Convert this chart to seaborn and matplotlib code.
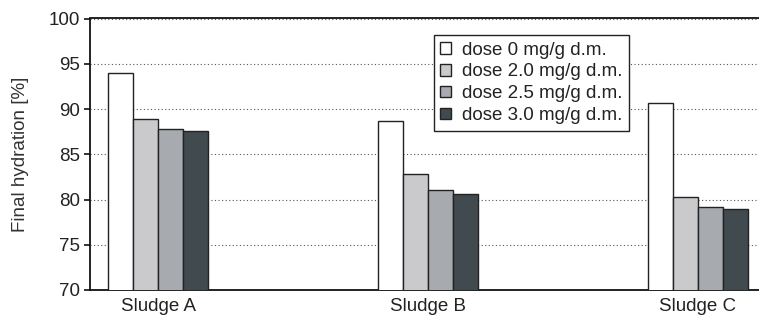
import matplotlib
matplotlib.use("Agg")
import matplotlib.pyplot as plt
import seaborn as sns
import pandas as pd

categories = ["Sludge A", "Sludge B", "Sludge C"]
series_names = ["dose 0 mg/g d.m.", "dose 2.0 mg/g d.m.", "dose 2.5 mg/g d.m.", "dose 3.0 mg/g d.m."]
dose_0 = [94.0, 88.7, 90.7]
dose_20 = [88.9, 82.8, 80.3]
dose_25 = [87.8, 81.0, 79.2]
dose_30 = [87.6, 80.6, 79.0]
yticks = [70, 75, 80, 85, 90, 95, 100]

colors = ["#ffffff", "#c9cacd", "#a6aab0", "#3f4a51"]

rows = []
for name, vals in zip(series_names, [dose_0, dose_20, dose_25, dose_30]):
    for c, v in zip(categories, vals):
        rows.append({"cat": c, "series": name, "value": v})
df = pd.DataFrame(rows)

sns.set_style("white")
plt.rcParams["font.family"] = ["Liberation Sans", "DejaVu Sans"]

FS = 13.5

fig = plt.figure(figsize=(7.59, 3.15), dpi=100)
ax = fig.add_axes([90 / 759, 1 - 290 / 315, 1 - 90 / 759, (290 - 18.5) / 315])

sns.barplot(data=df, x="cat", y="value", hue="series", order=categories,
            hue_order=series_names, palette=colors, width=0.37, gap=0,
            edgecolor="#222222", linewidth=1.0, ax=ax, zorder=3, legend=True)

ax.set_ylim(70, 100)
ax.set_xlim(-0.252, 2.226)
ax.set_yticks(yticks)
ax.set_yticklabels([str(t) for t in yticks])
ax.yaxis.grid(True, linestyle=(0, (1, 2.2)), color="#555555", linewidth=0.8)
ax.set_axisbelow(True)

for s in ["left", "bottom", "top"]:
    ax.spines[s].set_visible(True)
    ax.spines[s].set_color("#111111")
    ax.spines[s].set_linewidth(1.3)
ax.spines["right"].set_visible(False)

ax.tick_params(axis="y", which="both", left=True, length=4, width=1.2, color="#111111",
               labelsize=FS, labelcolor="#222222", pad=3)
ax.tick_params(axis="x", bottom=False, labelsize=FS, labelcolor="#222222", pad=2)
ax.set_xlabel("")
ax.set_ylabel("Final hydration [%]", fontsize=FS, color="#333333", labelpad=14)

leg = ax.legend(loc="upper left", bbox_to_anchor=(0.514, 0.939), borderaxespad=0,
                fontsize=FS, frameon=True, fancybox=False, framealpha=1,
                edgecolor="#222222", handlelength=0.55, handleheight=0.55,
                handletextpad=0.6, labelspacing=0.26, borderpad=0.35)
leg.get_frame().set_linewidth(1.0)
for t in leg.get_texts():
    t.set_color("#222222")

fig.savefig("out.png", dpi=100)
